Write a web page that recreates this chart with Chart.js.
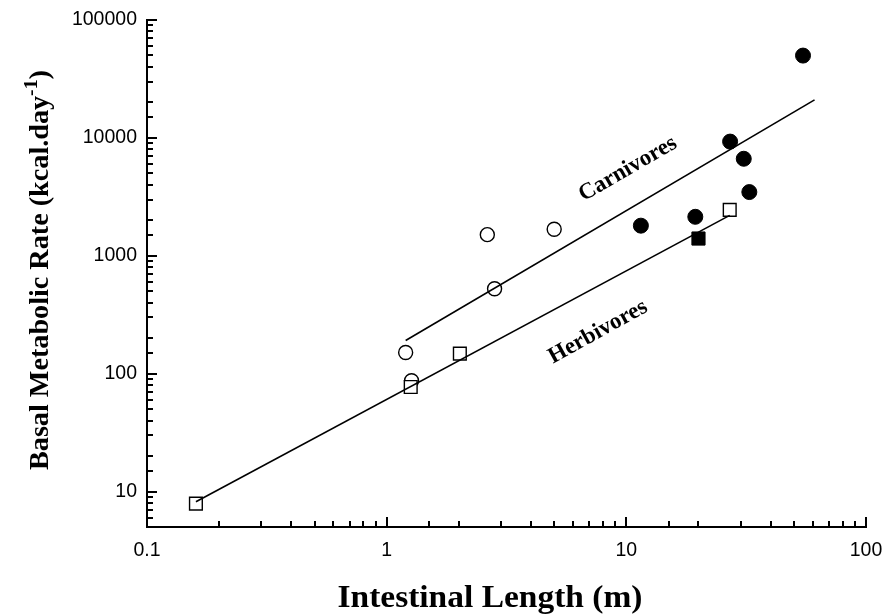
<!DOCTYPE html>
<html>
<head>
<meta charset="utf-8">
<script src="https://cdn.jsdelivr.net/npm/chart.js@4.4.1/dist/chart.umd.min.js"></script>
<style>
  html, body { margin: 0; padding: 0; background: #fff; }
  #c { display: block; }
</style>
</head>
<body>
<canvas id="c" width="885" height="615"></canvas>
<script>
// intestinal length (m) vs basal metabolic rate (kcal/day)
const herbOpenX = [0.16, 1.26, 2.02, 27];
const herbOpenY = [7.9, 77, 148, 2450];
const herbFilledX = [20];
const herbFilledY = [1400];
const carnOpenX = [1.2, 1.27, 2.63, 2.82, 5.0];
const carnOpenY = [151, 87, 1510, 525, 1680];
const carnFilledX = [11.5, 19.4, 27.1, 30.9, 32.6, 54.6];
const carnFilledY = [1800, 2140, 9300, 6650, 3470, 49900];

// fitted lines (end points)
const herbLineX = [0.16, 27];
const herbLineY = [8.2, 2200];
const carnLineX = [1.2, 61];
const carnLineY = [191, 21000];

const xTickLabels = ['0.1', '1', '10', '100'];
const yTickLabels = ['10', '100', '1000', '10000', '100000'];

const xTitle = 'Intestinal Length (m)';
const yTitle = 'Basal Metabolic Rate (kcal.day';
const yTitleSup = '-1';
const lineLabels = ['Carnivores', 'Herbivores'];

function pts(xs, ys) {
    return xs.map((x, i) => ({ x: x, y: ys[i] }));
}

function isDecade(v) {
    const l = Math.log10(v);
    return Math.abs(l - Math.round(l)) < 1e-6;
}

const serif = '"Liberation Serif", "Times New Roman", serif';

const inwardTicks = {
    id: 'inwardTicks',
    afterDatasetsDraw(chart) {
        const ctx = chart.ctx;
        const xs = chart.scales.x;
        const ys = chart.scales.y;
        const area = chart.chartArea;
        ctx.save();
        ctx.strokeStyle = '#000';
        ctx.lineWidth = 2;
        xs.ticks.forEach(t => {
            const px = Math.round(xs.getPixelForValue(t.value));
            const len = isDecade(t.value) ? 10 : 6;
            ctx.beginPath();
            ctx.moveTo(px, area.bottom);
            ctx.lineTo(px, area.bottom - len);
            ctx.stroke();
        });
        ys.ticks.forEach(t => {
            const py = Math.round(ys.getPixelForValue(t.value));
            const len = isDecade(t.value) ? 10 : 6;
            ctx.beginPath();
            ctx.moveTo(area.left, py);
            ctx.lineTo(area.left + len, py);
            ctx.stroke();
        });

        // labels along the fitted lines
        ctx.fillStyle = '#000';
        ctx.font = 'bold 23px ' + serif;
        ctx.textAlign = 'center';
        ctx.textBaseline = 'middle';
        ctx.save();
        ctx.translate(628, 169);
        ctx.rotate(-30 * Math.PI / 180);
        ctx.fillText(lineLabels[0], 0, 0);
        ctx.restore();
        ctx.save();
        ctx.translate(598, 332);
        ctx.rotate(-29 * Math.PI / 180);
        ctx.fillText(lineLabels[1], 0, 0);
        ctx.restore();

        // axis titles
        ctx.textBaseline = 'alphabetic';
        ctx.font = 'bold 31px ' + serif;
        ctx.save();
        ctx.translate(490, 607);
        ctx.scale(1.08, 1);
        ctx.fillText(xTitle, 0, 0);
        ctx.restore();

        ctx.save();
        ctx.translate(48, 270);
        ctx.rotate(-Math.PI / 2);
        const mainFont = 'bold 27px ' + serif;
        const supFont = 'bold 19px ' + serif;
        ctx.font = mainFont;
        const w1 = ctx.measureText(yTitle).width;
        const w3 = ctx.measureText(')').width;
        ctx.font = supFont;
        const w2 = ctx.measureText(yTitleSup).width;
        const total = w1 + w2 + w3;
        ctx.scale(400 / total, 1);
        let x0 = -total / 2;
        ctx.textAlign = 'left';
        ctx.font = mainFont;
        ctx.fillText(yTitle, x0, 0);
        ctx.font = supFont;
        ctx.fillText(yTitleSup, x0 + w1, -11);
        ctx.font = mainFont;
        ctx.fillText(')', x0 + w1 + w2, 0);
        ctx.restore();

        ctx.restore();
    }
};

const tickFont = { family: '"Liberation Sans", Arial, sans-serif', size: 19.5 };

new Chart(document.getElementById('c'), {
    type: 'scatter',
    data: {
        datasets: [
            {
                type: 'line',
                data: pts(herbLineX, herbLineY),
                borderColor: '#000',
                borderWidth: 1.6,
                pointRadius: 0,
                fill: false
            },
            {
                type: 'line',
                data: pts(carnLineX, carnLineY),
                borderColor: '#000',
                borderWidth: 1.6,
                pointRadius: 0,
                fill: false
            },
            {
                data: pts(herbOpenX, herbOpenY),
                pointStyle: 'rect',
                pointRadius: 9,
                backgroundColor: '#fff',
                borderColor: '#000',
                borderWidth: 1.4
            },
            {
                data: pts(herbFilledX, herbFilledY),
                pointStyle: 'rect',
                pointRadius: 9.3,
                backgroundColor: '#000',
                borderColor: '#000',
                borderWidth: 1
            },
            {
                data: pts(carnOpenX, carnOpenY),
                pointStyle: 'circle',
                pointRadius: 7,
                backgroundColor: 'rgba(255,255,255,0)',
                borderColor: '#000',
                borderWidth: 1.4
            },
            {
                data: pts(carnFilledX, carnFilledY),
                pointStyle: 'circle',
                pointRadius: 7.5,
                backgroundColor: '#000',
                borderColor: '#000',
                borderWidth: 1
            }
        ]
    },
    options: {
        responsive: false,
        animation: false,
        events: [],
        layout: { padding: { top: 20, right: 19, left: 0, bottom: 0 } },
        plugins: {
            legend: { display: false },
            tooltip: { enabled: false }
        },
        scales: {
            x: {
                type: 'logarithmic',
                min: 0.1,
                max: 100,
                afterFit(scale) {
                    scale.height = 88;
                    scale.paddingLeft = 0;
                    scale.paddingRight = 0;
                },
                grid: { display: false, drawTicks: false, tickLength: 0 },
                border: { display: true, color: '#000', width: 2 },
                ticks: {
                    autoSkip: false,
                    maxRotation: 0,
                    padding: 12,
                    color: '#000',
                    font: tickFont,
                    callback: function(v) {
                        const s = String(Number(v.toPrecision(3)));
                        return xTickLabels.includes(s) ? s : '';
                    }
                }
            },
            y: {
                type: 'logarithmic',
                min: 5,
                max: 100000,
                afterFit(scale) {
                    scale.width = 147;
                    scale.paddingTop = 0;
                    scale.paddingBottom = 0;
                },
                grid: { display: false, drawTicks: false, tickLength: 0 },
                border: { display: true, color: '#000', width: 2 },
                ticks: {
                    autoSkip: false,
                    padding: 10,
                    color: '#000',
                    font: tickFont,
                    callback: function(v) {
                        const s = String(Math.round(v));
                        return yTickLabels.includes(s) ? s : '';
                    }
                }
            }
        }
    },
    plugins: [inwardTicks]
});
</script>
</body>
</html>
